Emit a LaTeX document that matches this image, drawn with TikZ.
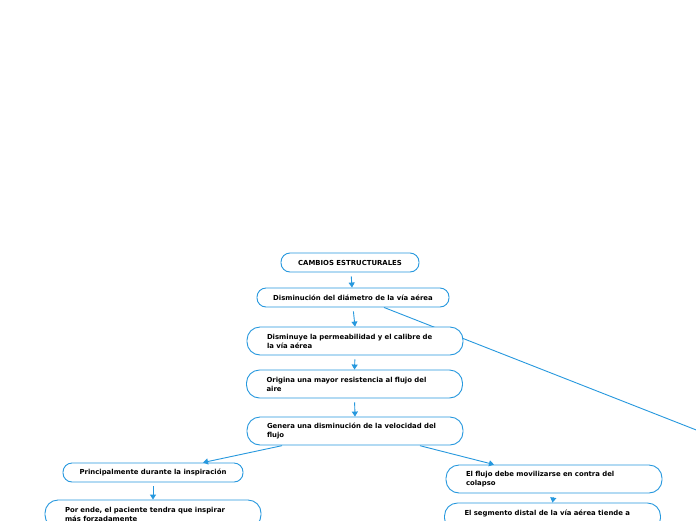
\documentclass[tikz,border=0pt]{standalone}
\usepackage{fontspec}
\setmainfont{DejaVu Sans}
\usetikzlibrary{arrows.meta}
\definecolor{bl}{RGB}{38,152,222}
\begin{document}
\begin{tikzpicture}[x=1pt,y=-1pt,
 box/.style={draw=bl,line width=0.9pt,fill=white,font=\fontsize{6.9}{9}\selectfont\bfseries,inner sep=0pt},
 pill/.style={box,rounded corners=9pt,minimum height=19pt},
 tall/.style={box,rounded corners=13pt,minimum height=28pt,text width=176pt,align=left,inner xsep=20pt},
 link/.style={draw=bl,line width=0.9pt},
 arr/.style={link,-{Triangle[length=5pt,width=6pt]},shorten <=4pt}]
\useasboundingbox (0,0) rectangle (696,520);
\clip (0,0) rectangle (696,520);
\fill[white] (0,0) rectangle (696,520);
\node[pill,minimum width=138pt] (n1) at (350,262.5) {CAMBIOS ESTRUCTURALES};
\node[pill,minimum width=192pt] (n2) at (353,297.5) {Disminución del diámetro de la vía aérea};
\coordinate (far) at (800,470.7);
\draw[link] ([xshift=31pt]n2.south) -- (far);
\node[tall] (n3) at (355,341) {Disminuye la permeabilidad y el calibre de\\la vía aérea};
\node[tall] (n4) at (354.5,384) {Origina una mayor resistencia al flujo del\\aire};
\node[tall] (n5) at (355,431) {Genera una disminución de la velocidad del\\flujo};
\node[pill,minimum width=180pt] (n6) at (153,472.5) {Principalmente durante la inspiración};
\node[tall] (n7) at (153,514) {Por ende, el paciente tendra que inspirar\\más forzadamente};
\node[tall] (n8) at (554,479) {El flujo debe movilizarse en contra del\\colapso};
\node[tall] (n9) at (552.5,517) {El segmento distal de la vía aérea tiende a\\\mbox{}};
\draw[arr] ([xshift=1pt]n1.south) -- ([xshift=-1pt]n2.north);
\draw[arr] (n2.south) -- (n3.north);
\draw[arr] (n3.south) -- (n4.north);
\draw[arr] (n4.south) -- (n5.north);
\draw[arr,shorten <=1pt] ([xshift=-72pt]n5.south) -- ([xshift=50pt]n6.north);
\draw[arr,shorten <=1pt] ([xshift=64pt]n5.south) -- ([xshift=-60pt]n8.north);
\draw[arr] (n6.south) -- (n7.north);
\draw[arr] (n8.south) -- (n9.north);
\end{tikzpicture}
\end{document}
